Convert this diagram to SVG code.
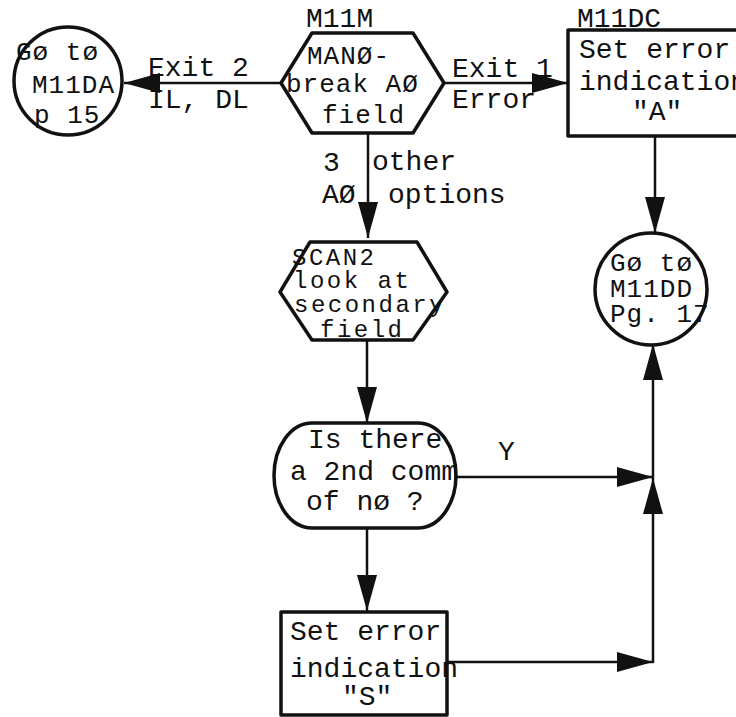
<svg xmlns="http://www.w3.org/2000/svg" width="736" height="717" viewBox="0 0 736 717">
<style>
text{font-family:"Liberation Mono","DejaVu Sans Mono",monospace;font-size:28px;fill:#111}
text.sm{font-size:24px;letter-spacing:2.5px}
text.md{font-size:26px;letter-spacing:1px}
.sh{fill:#fff;stroke:#111;stroke-width:3.5;stroke-linejoin:round}
.ln{fill:none;stroke:#111;stroke-width:2.5}
</style>
<defs>
<marker id="ah" viewBox="0 0 36 20" refX="36" refY="10" markerWidth="36" markerHeight="20" markerUnits="userSpaceOnUse" orient="auto">
<path d="M0,0 L36,10 L0,20 Z" fill="#111"/>
</marker>
</defs>
<rect width="736" height="717" fill="#fff"/>
<g id="connectors">
<line class="ln" x1="281" y1="83" x2="124" y2="83" marker-end="url(#ah)"/>
<line class="ln" x1="444" y1="83" x2="568" y2="83" marker-end="url(#ah)"/>
<line class="ln" x1="655" y1="136" x2="655" y2="233" marker-end="url(#ah)"/>
<line class="ln" x1="368" y1="133" x2="368" y2="238" marker-end="url(#ah)"/>
<line class="ln" x1="367" y1="340" x2="367" y2="423" marker-end="url(#ah)"/>
<line class="ln" x1="367" y1="528" x2="367" y2="611" marker-end="url(#ah)"/>
<line class="ln" x1="457" y1="477" x2="653" y2="477" marker-end="url(#ah)"/>
<line class="ln" x1="447" y1="662" x2="653" y2="662" marker-end="url(#ah)"/>
<line class="ln" x1="653" y1="663" x2="653" y2="478" marker-end="url(#ah)"/>
<line class="ln" x1="653" y1="478" x2="653" y2="344" marker-end="url(#ah)"/>
<text x="148" y="76">Exit 2</text>
<text x="148" y="108">IL, DL</text>
<text x="452" y="77">Exit 1</text>
<text x="452" y="108">Error</text>
<text x="323" y="171">3</text>
<text x="372" y="170">other</text>
<text x="322" y="203">AØ</text>
<text x="388" y="203">options</text>
<text x="498" y="460">Y</text>
</g>
<g id="M11DA">
<circle class="sh" cx="68" cy="81" r="54"/>
<text class="md" x="16" y="60">Gø tø</text>
<text class="md" x="32" y="93">M11DA</text>
<text class="md" x="34" y="123">p 15</text>
</g>
<g id="M11M">
<text x="306" y="27">M11M</text>
<polygon class="sh" points="312,33 413,33 444,83 413,133 312,133 281,83"/>
<text class="md" x="307" y="64">MANØ-</text>
<text class="md" x="286" y="92">break AØ</text>
<text class="md" x="322" y="123">field</text>
</g>
<g id="M11DC">
<text x="577" y="27">M11DC</text>
<rect class="sh" x="568" y="30" width="170" height="106"/>
<text x="579" y="58">Set error</text>
<text x="579" y="90">indication</text>
<text x="632" y="120">"A"</text>
</g>
<g id="M11DD">
<circle class="sh" cx="651" cy="289" r="56"/>
<text class="md" x="610" y="271">Gø tø</text>
<text class="md" x="610" y="297">M11DD</text>
<text class="md" x="610" y="322">Pg. 17</text>
</g>
<g id="SCAN2">
<polygon class="sh" points="310,242 417,242 447,292 413,340 312,340 280,292"/>
<text class="sm" x="292" y="265">SCAN2</text>
<text class="sm" x="293" y="288">look at</text>
<text class="sm" x="294" y="312">secondary</text>
<text class="sm" x="320" y="337">field</text>
</g>
<g id="decision">
<path class="sh" d="M312,423 L418,423 A38,52.5 0 0 1 418,528 L312,528 A38,52.5 0 0 1 312,423 Z"/>
<text x="308" y="448">Is there</text>
<text x="290" y="480">a 2nd comm</text>
<text x="306" y="510">of nø ?</text>
</g>
<g id="setS">
<rect class="sh" x="281" y="612" width="166" height="103"/>
<text x="290" y="640">Set error</text>
<text x="290" y="677">indication</text>
<text x="342" y="705">"S"</text>
</g>
</svg>
